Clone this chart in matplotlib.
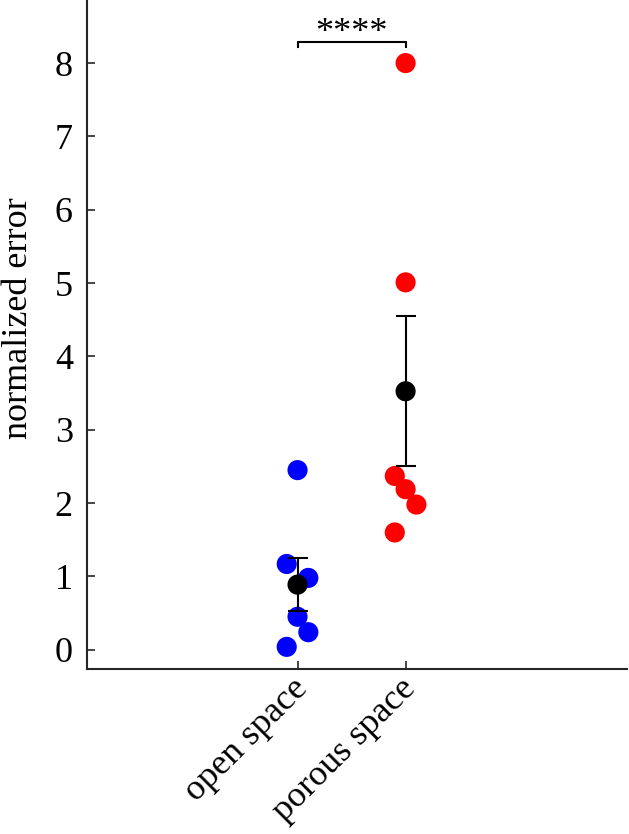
import matplotlib.pyplot as plt
import matplotlib.transforms as mtransforms
import numpy as np

plt.rcParams['font.family'] = ['Liberation Serif', 'DejaVu Serif']

categories = ['open space', 'porous space']
open_vals = [2.45, 1.17, 0.98, 0.45, 0.24, 0.04]
open_jitter = [0.0, -0.1, 0.1, 0.0, 0.1, -0.1]
porous_vals = [8.0, 5.01, 2.37, 2.19, 1.98, 1.60]
porous_jitter = [0.0, 0.0, -0.1, 0.0, 0.1, -0.1]
colors = ['#0000ff', '#ff0000']
stars = '****'

fig = plt.figure(figsize=(6.29, 8.34), dpi=100)
ax = fig.add_axes([0.138, 0.198, 0.859, 0.802])

groups = [open_vals, porous_vals]
jitters = [open_jitter, porous_jitter]
for i, (vals, jit) in enumerate(zip(groups, jitters)):
    pos = i + 1
    ax.scatter(pos + np.array(jit), vals, s=210, color=colors[i], edgecolors='none', zorder=2)
    vals = np.array(vals)
    mean = vals.mean()
    sem = vals.std(ddof=1) / np.sqrt(len(vals))
    ax.errorbar(pos, mean, yerr=sem, fmt='none', ecolor='black', elinewidth=1.5,
                capsize=7.5, capthick=1.5, zorder=3)
    ax.scatter(pos, mean, s=210, color='black', edgecolors='none', zorder=4)

# significance bracket
ax.plot([1, 1, 2, 2], [8.22, 8.29, 8.29, 8.22], color='black', lw=1.5, clip_on=False)
ax.text(1.5, 8.18, stars, ha='center', va='bottom', fontsize=26)

ax.set_xlim(-0.95, 4.05)
ax.set_ylim(-0.26, 8.86)
ax.set_yticks(range(0, 9))
ax.set_xticks([1, 2])
ax.set_xticklabels(categories, rotation=45, ha='right', va='top', rotation_mode='anchor')
ax.set_ylabel('normalized error', fontsize=26)
ax.yaxis.set_label_coords(-0.095, 0.525)

ax.spines['top'].set_visible(False)
ax.spines['right'].set_visible(False)
for s in ['left', 'bottom']:
    ax.spines[s].set_linewidth(1.5)
    ax.spines[s].set_color('#262626')
ax.tick_params(direction='in', length=6, width=1.2, labelsize=26, pad=10, colors='#262626')
ax.tick_params(labelcolor='black')
ax.tick_params(axis='x', pad=4)

offset = mtransforms.ScaledTranslation(-6 / 100, 2 / 100, fig.dpi_scale_trans)
for lbl in ax.get_xticklabels():
    lbl.set_transform(lbl.get_transform() + offset)

fig.savefig('out.png', dpi=100)
